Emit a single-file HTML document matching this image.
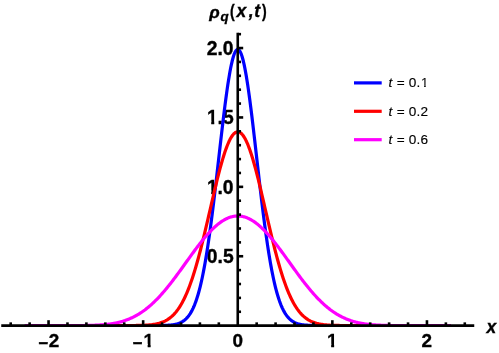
<!DOCTYPE html><html><head><meta charset="utf-8"><style>html,body{margin:0;padding:0;background:#fff}svg{display:block;will-change:transform}text{font-family:"Liberation Sans",sans-serif}</style></head><body>
<svg width="499" height="353" viewBox="0 0 499 353">
<rect width="499" height="353" fill="#fff"/>
<g font-weight="bold" fill="#000" stroke="#000" stroke-width="0.35">
<text font-size="18.90"><tspan x="38.39" y="348.70" font-size="17">−</tspan><tspan x="48.64" y="347.20">2</tspan></text>
<clipPath id="c1"><rect x="130" y="330" width="12.6" height="23"/><path d="M142.46,332.08 H150.62 V348.14 H147.68 V343.67 H142.46 Z"/></clipPath><text clip-path="url(#c1)" font-size="18.90"><tspan x="132.79" y="348.70" font-size="17">−</tspan><tspan x="143.47" y="347.20">1</tspan></text>
<text x="232.40" y="347.20" font-size="18.90">0</text>
<clipPath id="c2"><path d="M325.96,332.08 H334.12 V348.14 H331.18 V343.67 H325.96 Z"/></clipPath><text clip-path="url(#c2)" x="326.97" y="347.20" font-size="18.90">1</text>
<text x="421.49" y="347.20" font-size="18.90">2</text>
<text x="206.69 217.49 222.91" y="263.15" font-size="19.30">0.5</text>
<clipPath id="c3"><rect x="218.1" y="173.75" width="20" height="30"/><path d="M205.94,178.31 H214.24 V194.71 H211.24 V190.18 H205.94 Z"/></clipPath><text clip-path="url(#c3)" x="206.94 217.49 222.74" y="193.75" font-size="19.30">1.0</text>
<clipPath id="c4"><rect x="218.1" y="104.35" width="20" height="30"/><path d="M205.94,108.91 H214.24 V125.31 H211.24 V120.78 H205.94 Z"/></clipPath><text clip-path="url(#c4)" x="206.94 217.49 222.91" y="124.35" font-size="19.30">1.5</text>
<text x="206.78 217.49 222.74" y="54.95" font-size="19.30">2.0</text>
</g>
<clipPath id="cc"><rect x="0" y="0" width="499" height="326.65"/></clipPath><g clip-path="url(#cc)">
<path d="M24.90,325.55 L25.61,325.55 L26.32,325.55 L27.03,325.55 L27.74,325.55 L28.45,325.55 L29.16,325.55 L29.87,325.55 L30.58,325.55 L31.29,325.55 L32.00,325.55 L32.70,325.55 L33.41,325.55 L34.12,325.55 L34.83,325.55 L35.54,325.55 L36.25,325.55 L36.96,325.55 L37.67,325.55 L38.38,325.55 L39.09,325.55 L39.80,325.55 L40.51,325.55 L41.22,325.55 L41.93,325.55 L42.64,325.55 L43.35,325.55 L44.06,325.55 L44.77,325.55 L45.48,325.55 L46.19,325.55 L46.89,325.55 L47.60,325.55 L48.31,325.55 L49.02,325.55 L49.73,325.55 L50.44,325.55 L51.15,325.55 L51.86,325.55 L52.57,325.55 L53.28,325.55 L53.99,325.55 L54.70,325.55 L55.41,325.55 L56.12,325.55 L56.83,325.55 L57.54,325.55 L58.25,325.55 L58.96,325.55 L59.67,325.55 L60.38,325.55 L61.08,325.55 L61.79,325.55 L62.50,325.55 L63.21,325.55 L63.92,325.55 L64.63,325.55 L65.34,325.55 L66.05,325.55 L66.76,325.55 L67.47,325.55 L68.18,325.55 L68.89,325.55 L69.60,325.55 L70.31,325.55 L71.02,325.55 L71.73,325.55 L72.44,325.55 L73.15,325.55 L73.86,325.55 L74.56,325.55 L75.27,325.55 L75.98,325.55 L76.69,325.55 L77.40,325.55 L78.11,325.55 L78.82,325.55 L79.53,325.55 L80.24,325.55 L80.95,325.55 L81.66,325.55 L82.37,325.55 L83.08,325.55 L83.79,325.55 L84.50,325.55 L85.21,325.55 L85.92,325.55 L86.63,325.55 L87.34,325.55 L88.05,325.55 L88.76,325.55 L89.46,325.55 L90.17,325.55 L90.88,325.55 L91.59,325.55 L92.30,325.55 L93.01,325.55 L93.72,325.55 L94.43,325.55 L95.14,325.55 L95.85,325.55 L96.56,325.55 L97.27,325.55 L97.98,325.55 L98.69,325.55 L99.40,325.55 L100.11,325.55 L100.82,325.55 L101.53,325.55 L102.24,325.55 L102.94,325.55 L103.65,325.55 L104.36,325.55 L105.07,325.55 L105.78,325.55 L106.49,325.55 L107.20,325.55 L107.91,325.55 L108.62,325.55 L109.33,325.55 L110.04,325.55 L110.75,325.55 L111.46,325.55 L112.17,325.55 L112.88,325.55 L113.59,325.55 L114.30,325.55 L115.01,325.55 L115.72,325.55 L116.43,325.55 L117.14,325.55 L117.84,325.55 L118.55,325.55 L119.26,325.55 L119.97,325.55 L120.68,325.55 L121.39,325.55 L122.10,325.55 L122.81,325.55 L123.52,325.55 L124.23,325.55 L124.94,325.55 L125.65,325.55 L126.36,325.55 L127.07,325.55 L127.78,325.55 L128.49,325.55 L129.20,325.55 L129.91,325.55 L130.62,325.55 L131.32,325.55 L132.03,325.55 L132.74,325.55 L133.45,325.55 L134.16,325.55 L134.87,325.55 L135.58,325.55 L136.29,325.55 L137.00,325.55 L137.71,325.55 L138.42,325.55 L139.13,325.55 L139.84,325.55 L140.55,325.55 L141.26,325.55 L141.97,325.55 L142.68,325.55 L143.39,325.55 L144.10,325.55 L144.81,325.55 L145.51,325.55 L146.22,325.55 L146.93,325.55 L147.64,325.55 L148.35,325.55 L149.06,325.55 L149.77,325.54 L150.48,325.54 L151.19,325.54 L151.90,325.54 L152.61,325.54 L153.32,325.54 L154.03,325.53 L154.74,325.53 L155.45,325.53 L156.16,325.52 L156.87,325.52 L157.58,325.51 L158.29,325.51 L159.00,325.50 L159.71,325.49 L160.41,325.48 L161.12,325.47 L161.83,325.46 L162.54,325.44 L163.25,325.43 L163.96,325.41 L164.67,325.38 L165.38,325.36 L166.09,325.33 L166.80,325.30 L167.51,325.26 L168.22,325.22 L168.93,325.17 L169.64,325.11 L170.35,325.05 L171.06,324.98 L171.77,324.90 L172.48,324.81 L173.19,324.71 L173.90,324.59 L174.60,324.47 L175.31,324.32 L176.02,324.16 L176.73,323.98 L177.44,323.78 L178.15,323.56 L178.86,323.32 L179.57,323.04 L180.28,322.74 L180.99,322.41 L181.70,322.04 L182.41,321.63 L183.12,321.18 L183.83,320.69 L184.54,320.15 L185.25,319.55 L185.96,318.90 L186.67,318.19 L187.38,317.42 L188.09,316.58 L188.79,315.66 L189.50,314.67 L190.21,313.59 L190.92,312.42 L191.63,311.16 L192.34,309.81 L193.05,308.34 L193.76,306.77 L194.47,305.09 L195.18,303.28 L195.89,301.35 L196.60,299.28 L197.31,297.08 L198.02,294.74 L198.73,292.26 L199.44,289.62 L200.15,286.83 L200.86,283.88 L201.57,280.76 L202.28,277.49 L202.98,274.04 L203.69,270.43 L204.40,266.64 L205.11,262.68 L205.82,258.55 L206.53,254.25 L207.24,249.77 L207.95,245.13 L208.66,240.33 L209.37,235.36 L210.08,230.24 L210.79,224.96 L211.50,219.55 L212.21,214.00 L212.92,208.32 L213.63,202.52 L214.34,196.62 L215.05,190.63 L215.76,184.55 L216.47,178.40 L217.17,172.20 L217.88,165.97 L218.59,159.71 L219.30,153.45 L220.01,147.20 L220.72,140.98 L221.43,134.82 L222.14,128.72 L222.85,122.71 L223.56,116.81 L224.27,111.04 L224.98,105.42 L225.69,99.96 L226.40,94.69 L227.11,89.64 L227.82,84.80 L228.53,80.21 L229.24,75.89 L229.95,71.84 L230.65,68.08 L231.36,64.64 L232.07,61.52 L232.78,58.74 L233.49,56.30 L234.20,54.22 L234.91,52.51 L235.62,51.17 L236.33,50.21 L237.04,49.63 L237.75,49.44 L238.46,49.63 L239.17,50.21 L239.88,51.17 L240.59,52.51 L241.30,54.22 L242.01,56.30 L242.72,58.74 L243.43,61.52 L244.14,64.64 L244.85,68.08 L245.55,71.84 L246.26,75.89 L246.97,80.21 L247.68,84.80 L248.39,89.64 L249.10,94.69 L249.81,99.96 L250.52,105.42 L251.23,111.04 L251.94,116.81 L252.65,122.71 L253.36,128.72 L254.07,134.82 L254.78,140.98 L255.49,147.20 L256.20,153.45 L256.91,159.71 L257.62,165.97 L258.33,172.20 L259.04,178.40 L259.74,184.55 L260.45,190.63 L261.16,196.62 L261.87,202.52 L262.58,208.32 L263.29,214.00 L264.00,219.55 L264.71,224.96 L265.42,230.24 L266.13,235.36 L266.84,240.33 L267.55,245.13 L268.26,249.77 L268.97,254.25 L269.68,258.55 L270.39,262.68 L271.10,266.64 L271.81,270.43 L272.52,274.04 L273.23,277.49 L273.93,280.76 L274.64,283.88 L275.35,286.83 L276.06,289.62 L276.77,292.26 L277.48,294.74 L278.19,297.08 L278.90,299.28 L279.61,301.35 L280.32,303.28 L281.03,305.09 L281.74,306.77 L282.45,308.34 L283.16,309.81 L283.87,311.16 L284.58,312.42 L285.29,313.59 L286.00,314.67 L286.71,315.66 L287.41,316.58 L288.12,317.42 L288.83,318.19 L289.54,318.90 L290.25,319.55 L290.96,320.15 L291.67,320.69 L292.38,321.18 L293.09,321.63 L293.80,322.04 L294.51,322.41 L295.22,322.74 L295.93,323.04 L296.64,323.32 L297.35,323.56 L298.06,323.78 L298.77,323.98 L299.48,324.16 L300.19,324.32 L300.90,324.47 L301.60,324.59 L302.31,324.71 L303.02,324.81 L303.73,324.90 L304.44,324.98 L305.15,325.05 L305.86,325.11 L306.57,325.17 L307.28,325.22 L307.99,325.26 L308.70,325.30 L309.41,325.33 L310.12,325.36 L310.83,325.38 L311.54,325.41 L312.25,325.43 L312.96,325.44 L313.67,325.46 L314.38,325.47 L315.09,325.48 L315.80,325.49 L316.50,325.50 L317.21,325.51 L317.92,325.51 L318.63,325.52 L319.34,325.52 L320.05,325.53 L320.76,325.53 L321.47,325.53 L322.18,325.54 L322.89,325.54 L323.60,325.54 L324.31,325.54 L325.02,325.54 L325.73,325.54 L326.44,325.55 L327.15,325.55 L327.86,325.55 L328.57,325.55 L329.28,325.55 L329.99,325.55 L330.69,325.55 L331.40,325.55 L332.11,325.55 L332.82,325.55 L333.53,325.55 L334.24,325.55 L334.95,325.55 L335.66,325.55 L336.37,325.55 L337.08,325.55 L337.79,325.55 L338.50,325.55 L339.21,325.55 L339.92,325.55 L340.63,325.55 L341.34,325.55 L342.05,325.55 L342.76,325.55 L343.47,325.55 L344.18,325.55 L344.88,325.55 L345.59,325.55 L346.30,325.55 L347.01,325.55 L347.72,325.55 L348.43,325.55 L349.14,325.55 L349.85,325.55 L350.56,325.55 L351.27,325.55 L351.98,325.55 L352.69,325.55 L353.40,325.55 L354.11,325.55 L354.82,325.55 L355.53,325.55 L356.24,325.55 L356.95,325.55 L357.66,325.55 L358.37,325.55 L359.07,325.55 L359.78,325.55 L360.49,325.55 L361.20,325.55 L361.91,325.55 L362.62,325.55 L363.33,325.55 L364.04,325.55 L364.75,325.55 L365.46,325.55 L366.17,325.55 L366.88,325.55 L367.59,325.55 L368.30,325.55 L369.01,325.55 L369.72,325.55 L370.43,325.55 L371.14,325.55 L371.85,325.55 L372.55,325.55 L373.26,325.55 L373.97,325.55 L374.68,325.55 L375.39,325.55 L376.10,325.55 L376.81,325.55 L377.52,325.55 L378.23,325.55 L378.94,325.55 L379.65,325.55 L380.36,325.55 L381.07,325.55 L381.78,325.55 L382.49,325.55 L383.20,325.55 L383.91,325.55 L384.62,325.55 L385.33,325.55 L386.04,325.55 L386.75,325.55 L387.45,325.55 L388.16,325.55 L388.87,325.55 L389.58,325.55 L390.29,325.55 L391.00,325.55 L391.71,325.55 L392.42,325.55 L393.13,325.55 L393.84,325.55 L394.55,325.55 L395.26,325.55 L395.97,325.55 L396.68,325.55 L397.39,325.55 L398.10,325.55 L398.81,325.55 L399.52,325.55 L400.23,325.55 L400.94,325.55 L401.64,325.55 L402.35,325.55 L403.06,325.55 L403.77,325.55 L404.48,325.55 L405.19,325.55 L405.90,325.55 L406.61,325.55 L407.32,325.55 L408.03,325.55 L408.74,325.55 L409.45,325.55 L410.16,325.55 L410.87,325.55 L411.58,325.55 L412.29,325.55 L413.00,325.55 L413.71,325.55 L414.42,325.55 L415.12,325.55 L415.83,325.55 L416.54,325.55 L417.25,325.55 L417.96,325.55 L418.67,325.55 L419.38,325.55 L420.09,325.55 L420.80,325.55 L421.51,325.55 L422.22,325.55 L422.93,325.55 L423.64,325.55 L424.35,325.55 L425.06,325.55 L425.77,325.55 L426.48,325.55 L427.19,325.55 L427.90,325.55 L428.61,325.55 L429.32,325.55 L430.02,325.55 L430.73,325.55 L431.44,325.55 L432.15,325.55 L432.86,325.55 L433.57,325.55 L434.28,325.55 L434.99,325.55 L435.70,325.55 L436.41,325.55 L437.12,325.55 L437.83,325.55 L438.54,325.55 L439.25,325.55 L439.96,325.55 L440.67,325.55 L441.38,325.55 L442.09,325.55 L442.80,325.55 L443.50,325.55 L444.21,325.55 L444.92,325.55 L445.63,325.55 L446.34,325.55 L447.05,325.55 L447.76,325.55 L448.47,325.55 L449.18,325.55 L449.89,325.55 L450.60,325.55" fill="none" stroke="#0000ff" stroke-width="3.2" stroke-linejoin="round"/>
<path d="M24.90,325.55 L25.61,325.55 L26.32,325.55 L27.03,325.55 L27.74,325.55 L28.45,325.55 L29.16,325.55 L29.87,325.55 L30.58,325.55 L31.29,325.55 L32.00,325.55 L32.70,325.55 L33.41,325.55 L34.12,325.55 L34.83,325.55 L35.54,325.55 L36.25,325.55 L36.96,325.55 L37.67,325.55 L38.38,325.55 L39.09,325.55 L39.80,325.55 L40.51,325.55 L41.22,325.55 L41.93,325.55 L42.64,325.55 L43.35,325.55 L44.06,325.55 L44.77,325.55 L45.48,325.55 L46.19,325.55 L46.89,325.55 L47.60,325.55 L48.31,325.55 L49.02,325.55 L49.73,325.55 L50.44,325.55 L51.15,325.55 L51.86,325.55 L52.57,325.55 L53.28,325.55 L53.99,325.55 L54.70,325.55 L55.41,325.55 L56.12,325.55 L56.83,325.55 L57.54,325.55 L58.25,325.55 L58.96,325.55 L59.67,325.55 L60.38,325.55 L61.08,325.55 L61.79,325.55 L62.50,325.55 L63.21,325.55 L63.92,325.55 L64.63,325.55 L65.34,325.55 L66.05,325.55 L66.76,325.55 L67.47,325.55 L68.18,325.55 L68.89,325.55 L69.60,325.55 L70.31,325.55 L71.02,325.55 L71.73,325.55 L72.44,325.55 L73.15,325.55 L73.86,325.55 L74.56,325.55 L75.27,325.55 L75.98,325.55 L76.69,325.55 L77.40,325.55 L78.11,325.55 L78.82,325.55 L79.53,325.55 L80.24,325.55 L80.95,325.55 L81.66,325.55 L82.37,325.55 L83.08,325.55 L83.79,325.55 L84.50,325.55 L85.21,325.55 L85.92,325.55 L86.63,325.55 L87.34,325.55 L88.05,325.55 L88.76,325.55 L89.46,325.55 L90.17,325.55 L90.88,325.55 L91.59,325.55 L92.30,325.55 L93.01,325.55 L93.72,325.55 L94.43,325.55 L95.14,325.55 L95.85,325.55 L96.56,325.55 L97.27,325.55 L97.98,325.55 L98.69,325.55 L99.40,325.55 L100.11,325.55 L100.82,325.55 L101.53,325.55 L102.24,325.55 L102.94,325.55 L103.65,325.55 L104.36,325.55 L105.07,325.55 L105.78,325.55 L106.49,325.55 L107.20,325.55 L107.91,325.55 L108.62,325.55 L109.33,325.55 L110.04,325.55 L110.75,325.55 L111.46,325.55 L112.17,325.55 L112.88,325.55 L113.59,325.55 L114.30,325.55 L115.01,325.55 L115.72,325.55 L116.43,325.55 L117.14,325.55 L117.84,325.55 L118.55,325.55 L119.26,325.55 L119.97,325.55 L120.68,325.55 L121.39,325.55 L122.10,325.55 L122.81,325.54 L123.52,325.54 L124.23,325.54 L124.94,325.54 L125.65,325.54 L126.36,325.54 L127.07,325.54 L127.78,325.53 L128.49,325.53 L129.20,325.53 L129.91,325.53 L130.62,325.52 L131.32,325.52 L132.03,325.51 L132.74,325.51 L133.45,325.50 L134.16,325.50 L134.87,325.49 L135.58,325.48 L136.29,325.47 L137.00,325.46 L137.71,325.45 L138.42,325.43 L139.13,325.42 L139.84,325.40 L140.55,325.39 L141.26,325.37 L141.97,325.34 L142.68,325.32 L143.39,325.29 L144.10,325.26 L144.81,325.23 L145.51,325.19 L146.22,325.15 L146.93,325.10 L147.64,325.06 L148.35,325.00 L149.06,324.94 L149.77,324.88 L150.48,324.81 L151.19,324.73 L151.90,324.65 L152.61,324.55 L153.32,324.45 L154.03,324.35 L154.74,324.23 L155.45,324.10 L156.16,323.96 L156.87,323.81 L157.58,323.65 L158.29,323.48 L159.00,323.29 L159.71,323.08 L160.41,322.87 L161.12,322.63 L161.83,322.38 L162.54,322.11 L163.25,321.82 L163.96,321.51 L164.67,321.18 L165.38,320.82 L166.09,320.44 L166.80,320.04 L167.51,319.61 L168.22,319.15 L168.93,318.67 L169.64,318.15 L170.35,317.60 L171.06,317.02 L171.77,316.41 L172.48,315.76 L173.19,315.07 L173.90,314.35 L174.60,313.58 L175.31,312.78 L176.02,311.93 L176.73,311.04 L177.44,310.10 L178.15,309.12 L178.86,308.09 L179.57,307.01 L180.28,305.88 L180.99,304.70 L181.70,303.47 L182.41,302.18 L183.12,300.84 L183.83,299.45 L184.54,298.00 L185.25,296.49 L185.96,294.92 L186.67,293.29 L187.38,291.61 L188.09,289.87 L188.79,288.06 L189.50,286.20 L190.21,284.27 L190.92,282.29 L191.63,280.24 L192.34,278.14 L193.05,275.97 L193.76,273.75 L194.47,271.47 L195.18,269.13 L195.89,266.73 L196.60,264.28 L197.31,261.78 L198.02,259.22 L198.73,256.61 L199.44,253.95 L200.15,251.24 L200.86,248.49 L201.57,245.70 L202.28,242.86 L202.98,239.99 L203.69,237.08 L204.40,234.14 L205.11,231.16 L205.82,228.17 L206.53,225.15 L207.24,222.10 L207.95,219.05 L208.66,215.98 L209.37,212.90 L210.08,209.82 L210.79,206.74 L211.50,203.66 L212.21,200.59 L212.92,197.54 L213.63,194.50 L214.34,191.48 L215.05,188.48 L215.76,185.52 L216.47,182.59 L217.17,179.71 L217.88,176.86 L218.59,174.07 L219.30,171.33 L220.01,168.65 L220.72,166.03 L221.43,163.47 L222.14,160.99 L222.85,158.59 L223.56,156.26 L224.27,154.02 L224.98,151.87 L225.69,149.81 L226.40,147.85 L227.11,145.99 L227.82,144.23 L228.53,142.57 L229.24,141.03 L229.95,139.60 L230.65,138.28 L231.36,137.08 L232.07,136.00 L232.78,135.04 L233.49,134.21 L234.20,133.50 L234.91,132.92 L235.62,132.47 L236.33,132.14 L237.04,131.95 L237.75,131.88 L238.46,131.95 L239.17,132.14 L239.88,132.47 L240.59,132.92 L241.30,133.50 L242.01,134.21 L242.72,135.04 L243.43,136.00 L244.14,137.08 L244.85,138.28 L245.55,139.60 L246.26,141.03 L246.97,142.57 L247.68,144.23 L248.39,145.99 L249.10,147.85 L249.81,149.81 L250.52,151.87 L251.23,154.02 L251.94,156.26 L252.65,158.59 L253.36,160.99 L254.07,163.47 L254.78,166.03 L255.49,168.65 L256.20,171.33 L256.91,174.07 L257.62,176.86 L258.33,179.71 L259.04,182.59 L259.74,185.52 L260.45,188.48 L261.16,191.48 L261.87,194.50 L262.58,197.54 L263.29,200.59 L264.00,203.66 L264.71,206.74 L265.42,209.82 L266.13,212.90 L266.84,215.98 L267.55,219.05 L268.26,222.10 L268.97,225.15 L269.68,228.17 L270.39,231.16 L271.10,234.14 L271.81,237.08 L272.52,239.99 L273.23,242.86 L273.93,245.70 L274.64,248.49 L275.35,251.24 L276.06,253.95 L276.77,256.61 L277.48,259.22 L278.19,261.78 L278.90,264.28 L279.61,266.73 L280.32,269.13 L281.03,271.47 L281.74,273.75 L282.45,275.97 L283.16,278.14 L283.87,280.24 L284.58,282.29 L285.29,284.27 L286.00,286.20 L286.71,288.06 L287.41,289.87 L288.12,291.61 L288.83,293.29 L289.54,294.92 L290.25,296.49 L290.96,298.00 L291.67,299.45 L292.38,300.84 L293.09,302.18 L293.80,303.47 L294.51,304.70 L295.22,305.88 L295.93,307.01 L296.64,308.09 L297.35,309.12 L298.06,310.10 L298.77,311.04 L299.48,311.93 L300.19,312.78 L300.90,313.58 L301.60,314.35 L302.31,315.07 L303.02,315.76 L303.73,316.41 L304.44,317.02 L305.15,317.60 L305.86,318.15 L306.57,318.67 L307.28,319.15 L307.99,319.61 L308.70,320.04 L309.41,320.44 L310.12,320.82 L310.83,321.18 L311.54,321.51 L312.25,321.82 L312.96,322.11 L313.67,322.38 L314.38,322.63 L315.09,322.87 L315.80,323.08 L316.50,323.29 L317.21,323.48 L317.92,323.65 L318.63,323.81 L319.34,323.96 L320.05,324.10 L320.76,324.23 L321.47,324.35 L322.18,324.45 L322.89,324.55 L323.60,324.65 L324.31,324.73 L325.02,324.81 L325.73,324.88 L326.44,324.94 L327.15,325.00 L327.86,325.06 L328.57,325.10 L329.28,325.15 L329.99,325.19 L330.69,325.23 L331.40,325.26 L332.11,325.29 L332.82,325.32 L333.53,325.34 L334.24,325.37 L334.95,325.39 L335.66,325.40 L336.37,325.42 L337.08,325.43 L337.79,325.45 L338.50,325.46 L339.21,325.47 L339.92,325.48 L340.63,325.49 L341.34,325.50 L342.05,325.50 L342.76,325.51 L343.47,325.51 L344.18,325.52 L344.88,325.52 L345.59,325.53 L346.30,325.53 L347.01,325.53 L347.72,325.53 L348.43,325.54 L349.14,325.54 L349.85,325.54 L350.56,325.54 L351.27,325.54 L351.98,325.54 L352.69,325.54 L353.40,325.55 L354.11,325.55 L354.82,325.55 L355.53,325.55 L356.24,325.55 L356.95,325.55 L357.66,325.55 L358.37,325.55 L359.07,325.55 L359.78,325.55 L360.49,325.55 L361.20,325.55 L361.91,325.55 L362.62,325.55 L363.33,325.55 L364.04,325.55 L364.75,325.55 L365.46,325.55 L366.17,325.55 L366.88,325.55 L367.59,325.55 L368.30,325.55 L369.01,325.55 L369.72,325.55 L370.43,325.55 L371.14,325.55 L371.85,325.55 L372.55,325.55 L373.26,325.55 L373.97,325.55 L374.68,325.55 L375.39,325.55 L376.10,325.55 L376.81,325.55 L377.52,325.55 L378.23,325.55 L378.94,325.55 L379.65,325.55 L380.36,325.55 L381.07,325.55 L381.78,325.55 L382.49,325.55 L383.20,325.55 L383.91,325.55 L384.62,325.55 L385.33,325.55 L386.04,325.55 L386.75,325.55 L387.45,325.55 L388.16,325.55 L388.87,325.55 L389.58,325.55 L390.29,325.55 L391.00,325.55 L391.71,325.55 L392.42,325.55 L393.13,325.55 L393.84,325.55 L394.55,325.55 L395.26,325.55 L395.97,325.55 L396.68,325.55 L397.39,325.55 L398.10,325.55 L398.81,325.55 L399.52,325.55 L400.23,325.55 L400.94,325.55 L401.64,325.55 L402.35,325.55 L403.06,325.55 L403.77,325.55 L404.48,325.55 L405.19,325.55 L405.90,325.55 L406.61,325.55 L407.32,325.55 L408.03,325.55 L408.74,325.55 L409.45,325.55 L410.16,325.55 L410.87,325.55 L411.58,325.55 L412.29,325.55 L413.00,325.55 L413.71,325.55 L414.42,325.55 L415.12,325.55 L415.83,325.55 L416.54,325.55 L417.25,325.55 L417.96,325.55 L418.67,325.55 L419.38,325.55 L420.09,325.55 L420.80,325.55 L421.51,325.55 L422.22,325.55 L422.93,325.55 L423.64,325.55 L424.35,325.55 L425.06,325.55 L425.77,325.55 L426.48,325.55 L427.19,325.55 L427.90,325.55 L428.61,325.55 L429.32,325.55 L430.02,325.55 L430.73,325.55 L431.44,325.55 L432.15,325.55 L432.86,325.55 L433.57,325.55 L434.28,325.55 L434.99,325.55 L435.70,325.55 L436.41,325.55 L437.12,325.55 L437.83,325.55 L438.54,325.55 L439.25,325.55 L439.96,325.55 L440.67,325.55 L441.38,325.55 L442.09,325.55 L442.80,325.55 L443.50,325.55 L444.21,325.55 L444.92,325.55 L445.63,325.55 L446.34,325.55 L447.05,325.55 L447.76,325.55 L448.47,325.55 L449.18,325.55 L449.89,325.55 L450.60,325.55" fill="none" stroke="#ff0000" stroke-width="3.2" stroke-linejoin="round"/>
<path d="M24.90,325.55 L25.61,325.55 L26.32,325.55 L27.03,325.55 L27.74,325.55 L28.45,325.55 L29.16,325.55 L29.87,325.55 L30.58,325.55 L31.29,325.55 L32.00,325.55 L32.70,325.55 L33.41,325.55 L34.12,325.55 L34.83,325.55 L35.54,325.55 L36.25,325.55 L36.96,325.55 L37.67,325.55 L38.38,325.55 L39.09,325.55 L39.80,325.55 L40.51,325.55 L41.22,325.55 L41.93,325.55 L42.64,325.55 L43.35,325.55 L44.06,325.55 L44.77,325.55 L45.48,325.55 L46.19,325.55 L46.89,325.55 L47.60,325.55 L48.31,325.55 L49.02,325.55 L49.73,325.55 L50.44,325.55 L51.15,325.55 L51.86,325.55 L52.57,325.55 L53.28,325.55 L53.99,325.55 L54.70,325.55 L55.41,325.55 L56.12,325.55 L56.83,325.55 L57.54,325.55 L58.25,325.55 L58.96,325.55 L59.67,325.55 L60.38,325.55 L61.08,325.55 L61.79,325.55 L62.50,325.55 L63.21,325.55 L63.92,325.55 L64.63,325.55 L65.34,325.55 L66.05,325.55 L66.76,325.55 L67.47,325.55 L68.18,325.55 L68.89,325.55 L69.60,325.55 L70.31,325.55 L71.02,325.55 L71.73,325.54 L72.44,325.54 L73.15,325.54 L73.86,325.54 L74.56,325.54 L75.27,325.54 L75.98,325.53 L76.69,325.53 L77.40,325.53 L78.11,325.53 L78.82,325.52 L79.53,325.52 L80.24,325.51 L80.95,325.51 L81.66,325.50 L82.37,325.50 L83.08,325.49 L83.79,325.48 L84.50,325.48 L85.21,325.47 L85.92,325.46 L86.63,325.45 L87.34,325.44 L88.05,325.42 L88.76,325.41 L89.46,325.39 L90.17,325.38 L90.88,325.36 L91.59,325.34 L92.30,325.32 L93.01,325.30 L93.72,325.27 L94.43,325.25 L95.14,325.22 L95.85,325.19 L96.56,325.16 L97.27,325.12 L97.98,325.09 L98.69,325.05 L99.40,325.01 L100.11,324.96 L100.82,324.92 L101.53,324.87 L102.24,324.81 L102.94,324.76 L103.65,324.70 L104.36,324.63 L105.07,324.56 L105.78,324.49 L106.49,324.42 L107.20,324.34 L107.91,324.26 L108.62,324.17 L109.33,324.08 L110.04,323.98 L110.75,323.88 L111.46,323.77 L112.17,323.66 L112.88,323.54 L113.59,323.42 L114.30,323.29 L115.01,323.15 L115.72,323.01 L116.43,322.86 L117.14,322.71 L117.84,322.55 L118.55,322.38 L119.26,322.21 L119.97,322.02 L120.68,321.83 L121.39,321.64 L122.10,321.43 L122.81,321.22 L123.52,321.00 L124.23,320.77 L124.94,320.54 L125.65,320.29 L126.36,320.04 L127.07,319.78 L127.78,319.51 L128.49,319.23 L129.20,318.94 L129.91,318.64 L130.62,318.33 L131.32,318.01 L132.03,317.68 L132.74,317.34 L133.45,317.00 L134.16,316.64 L134.87,316.27 L135.58,315.89 L136.29,315.50 L137.00,315.10 L137.71,314.69 L138.42,314.26 L139.13,313.83 L139.84,313.39 L140.55,312.93 L141.26,312.46 L141.97,311.98 L142.68,311.49 L143.39,310.99 L144.10,310.48 L144.81,309.96 L145.51,309.42 L146.22,308.87 L146.93,308.31 L147.64,307.74 L148.35,307.16 L149.06,306.57 L149.77,305.96 L150.48,305.34 L151.19,304.72 L151.90,304.07 L152.61,303.42 L153.32,302.76 L154.03,302.09 L154.74,301.40 L155.45,300.70 L156.16,299.99 L156.87,299.27 L157.58,298.54 L158.29,297.80 L159.00,297.05 L159.71,296.29 L160.41,295.51 L161.12,294.73 L161.83,293.94 L162.54,293.13 L163.25,292.32 L163.96,291.50 L164.67,290.66 L165.38,289.82 L166.09,288.97 L166.80,288.11 L167.51,287.24 L168.22,286.36 L168.93,285.48 L169.64,284.59 L170.35,283.69 L171.06,282.78 L171.77,281.86 L172.48,280.94 L173.19,280.01 L173.90,279.08 L174.60,278.13 L175.31,277.19 L176.02,276.23 L176.73,275.28 L177.44,274.32 L178.15,273.35 L178.86,272.38 L179.57,271.40 L180.28,270.43 L180.99,269.45 L181.70,268.46 L182.41,267.48 L183.12,266.49 L183.83,265.50 L184.54,264.51 L185.25,263.52 L185.96,262.53 L186.67,261.54 L187.38,260.55 L188.09,259.56 L188.79,258.57 L189.50,257.59 L190.21,256.60 L190.92,255.62 L191.63,254.64 L192.34,253.67 L193.05,252.69 L193.76,251.73 L194.47,250.76 L195.18,249.81 L195.89,248.85 L196.60,247.91 L197.31,246.97 L198.02,246.03 L198.73,245.11 L199.44,244.19 L200.15,243.28 L200.86,242.38 L201.57,241.48 L202.28,240.60 L202.98,239.73 L203.69,238.86 L204.40,238.01 L205.11,237.17 L205.82,236.33 L206.53,235.51 L207.24,234.71 L207.95,233.91 L208.66,233.13 L209.37,232.36 L210.08,231.61 L210.79,230.86 L211.50,230.14 L212.21,229.43 L212.92,228.73 L213.63,228.05 L214.34,227.38 L215.05,226.73 L215.76,226.10 L216.47,225.48 L217.17,224.88 L217.88,224.30 L218.59,223.74 L219.30,223.19 L220.01,222.66 L220.72,222.15 L221.43,221.66 L222.14,221.19 L222.85,220.74 L223.56,220.30 L224.27,219.89 L224.98,219.50 L225.69,219.12 L226.40,218.77 L227.11,218.44 L227.82,218.13 L228.53,217.83 L229.24,217.56 L229.95,217.31 L230.65,217.09 L231.36,216.88 L232.07,216.69 L232.78,216.53 L233.49,216.39 L234.20,216.27 L234.91,216.17 L235.62,216.09 L236.33,216.04 L237.04,216.01 L237.75,216.00 L238.46,216.01 L239.17,216.04 L239.88,216.09 L240.59,216.17 L241.30,216.27 L242.01,216.39 L242.72,216.53 L243.43,216.69 L244.14,216.88 L244.85,217.09 L245.55,217.31 L246.26,217.56 L246.97,217.83 L247.68,218.13 L248.39,218.44 L249.10,218.77 L249.81,219.12 L250.52,219.50 L251.23,219.89 L251.94,220.30 L252.65,220.74 L253.36,221.19 L254.07,221.66 L254.78,222.15 L255.49,222.66 L256.20,223.19 L256.91,223.74 L257.62,224.30 L258.33,224.88 L259.04,225.48 L259.74,226.10 L260.45,226.73 L261.16,227.38 L261.87,228.05 L262.58,228.73 L263.29,229.43 L264.00,230.14 L264.71,230.86 L265.42,231.61 L266.13,232.36 L266.84,233.13 L267.55,233.91 L268.26,234.71 L268.97,235.51 L269.68,236.33 L270.39,237.17 L271.10,238.01 L271.81,238.86 L272.52,239.73 L273.23,240.60 L273.93,241.48 L274.64,242.38 L275.35,243.28 L276.06,244.19 L276.77,245.11 L277.48,246.03 L278.19,246.97 L278.90,247.91 L279.61,248.85 L280.32,249.81 L281.03,250.76 L281.74,251.73 L282.45,252.69 L283.16,253.67 L283.87,254.64 L284.58,255.62 L285.29,256.60 L286.00,257.59 L286.71,258.57 L287.41,259.56 L288.12,260.55 L288.83,261.54 L289.54,262.53 L290.25,263.52 L290.96,264.51 L291.67,265.50 L292.38,266.49 L293.09,267.48 L293.80,268.46 L294.51,269.45 L295.22,270.43 L295.93,271.40 L296.64,272.38 L297.35,273.35 L298.06,274.32 L298.77,275.28 L299.48,276.23 L300.19,277.19 L300.90,278.13 L301.60,279.08 L302.31,280.01 L303.02,280.94 L303.73,281.86 L304.44,282.78 L305.15,283.69 L305.86,284.59 L306.57,285.48 L307.28,286.36 L307.99,287.24 L308.70,288.11 L309.41,288.97 L310.12,289.82 L310.83,290.66 L311.54,291.50 L312.25,292.32 L312.96,293.13 L313.67,293.94 L314.38,294.73 L315.09,295.51 L315.80,296.29 L316.50,297.05 L317.21,297.80 L317.92,298.54 L318.63,299.27 L319.34,299.99 L320.05,300.70 L320.76,301.40 L321.47,302.09 L322.18,302.76 L322.89,303.42 L323.60,304.07 L324.31,304.72 L325.02,305.34 L325.73,305.96 L326.44,306.57 L327.15,307.16 L327.86,307.74 L328.57,308.31 L329.28,308.87 L329.99,309.42 L330.69,309.96 L331.40,310.48 L332.11,310.99 L332.82,311.49 L333.53,311.98 L334.24,312.46 L334.95,312.93 L335.66,313.39 L336.37,313.83 L337.08,314.26 L337.79,314.69 L338.50,315.10 L339.21,315.50 L339.92,315.89 L340.63,316.27 L341.34,316.64 L342.05,317.00 L342.76,317.34 L343.47,317.68 L344.18,318.01 L344.88,318.33 L345.59,318.64 L346.30,318.94 L347.01,319.23 L347.72,319.51 L348.43,319.78 L349.14,320.04 L349.85,320.29 L350.56,320.54 L351.27,320.77 L351.98,321.00 L352.69,321.22 L353.40,321.43 L354.11,321.64 L354.82,321.83 L355.53,322.02 L356.24,322.21 L356.95,322.38 L357.66,322.55 L358.37,322.71 L359.07,322.86 L359.78,323.01 L360.49,323.15 L361.20,323.29 L361.91,323.42 L362.62,323.54 L363.33,323.66 L364.04,323.77 L364.75,323.88 L365.46,323.98 L366.17,324.08 L366.88,324.17 L367.59,324.26 L368.30,324.34 L369.01,324.42 L369.72,324.49 L370.43,324.56 L371.14,324.63 L371.85,324.70 L372.55,324.76 L373.26,324.81 L373.97,324.87 L374.68,324.92 L375.39,324.96 L376.10,325.01 L376.81,325.05 L377.52,325.09 L378.23,325.12 L378.94,325.16 L379.65,325.19 L380.36,325.22 L381.07,325.25 L381.78,325.27 L382.49,325.30 L383.20,325.32 L383.91,325.34 L384.62,325.36 L385.33,325.38 L386.04,325.39 L386.75,325.41 L387.45,325.42 L388.16,325.44 L388.87,325.45 L389.58,325.46 L390.29,325.47 L391.00,325.48 L391.71,325.48 L392.42,325.49 L393.13,325.50 L393.84,325.50 L394.55,325.51 L395.26,325.51 L395.97,325.52 L396.68,325.52 L397.39,325.53 L398.10,325.53 L398.81,325.53 L399.52,325.53 L400.23,325.54 L400.94,325.54 L401.64,325.54 L402.35,325.54 L403.06,325.54 L403.77,325.54 L404.48,325.55 L405.19,325.55 L405.90,325.55 L406.61,325.55 L407.32,325.55 L408.03,325.55 L408.74,325.55 L409.45,325.55 L410.16,325.55 L410.87,325.55 L411.58,325.55 L412.29,325.55 L413.00,325.55 L413.71,325.55 L414.42,325.55 L415.12,325.55 L415.83,325.55 L416.54,325.55 L417.25,325.55 L417.96,325.55 L418.67,325.55 L419.38,325.55 L420.09,325.55 L420.80,325.55 L421.51,325.55 L422.22,325.55 L422.93,325.55 L423.64,325.55 L424.35,325.55 L425.06,325.55 L425.77,325.55 L426.48,325.55 L427.19,325.55 L427.90,325.55 L428.61,325.55 L429.32,325.55 L430.02,325.55 L430.73,325.55 L431.44,325.55 L432.15,325.55 L432.86,325.55 L433.57,325.55 L434.28,325.55 L434.99,325.55 L435.70,325.55 L436.41,325.55 L437.12,325.55 L437.83,325.55 L438.54,325.55 L439.25,325.55 L439.96,325.55 L440.67,325.55 L441.38,325.55 L442.09,325.55 L442.80,325.55 L443.50,325.55 L444.21,325.55 L444.92,325.55 L445.63,325.55 L446.34,325.55 L447.05,325.55 L447.76,325.55 L448.47,325.55 L449.18,325.55 L449.89,325.55 L450.60,325.55" fill="none" stroke="#ff00ff" stroke-width="3.2" stroke-linejoin="round"/>
</g>
<g stroke="#000" stroke-width="2.6" fill="none">
<line x1="1.25" y1="325.65" x2="474.25" y2="325.65"/>
<line x1="237.75" y1="325.65" x2="237.75" y2="32.87"/>
<line x1="10.71" y1="325.65" x2="10.71" y2="322.35"/>
<line x1="29.63" y1="325.65" x2="29.63" y2="322.35"/>
<line x1="48.55" y1="325.65" x2="48.55" y2="320.20"/>
<line x1="67.47" y1="325.65" x2="67.47" y2="322.35"/>
<line x1="86.39" y1="325.65" x2="86.39" y2="322.35"/>
<line x1="105.31" y1="325.65" x2="105.31" y2="322.35"/>
<line x1="124.23" y1="325.65" x2="124.23" y2="322.35"/>
<line x1="143.15" y1="325.65" x2="143.15" y2="320.20"/>
<line x1="162.07" y1="325.65" x2="162.07" y2="322.35"/>
<line x1="180.99" y1="325.65" x2="180.99" y2="322.35"/>
<line x1="199.91" y1="325.65" x2="199.91" y2="322.35"/>
<line x1="218.83" y1="325.65" x2="218.83" y2="322.35"/>
<line x1="256.67" y1="325.65" x2="256.67" y2="322.35"/>
<line x1="275.59" y1="325.65" x2="275.59" y2="322.35"/>
<line x1="294.51" y1="325.65" x2="294.51" y2="322.35"/>
<line x1="313.43" y1="325.65" x2="313.43" y2="322.35"/>
<line x1="332.35" y1="325.65" x2="332.35" y2="320.20"/>
<line x1="351.27" y1="325.65" x2="351.27" y2="322.35"/>
<line x1="370.19" y1="325.65" x2="370.19" y2="322.35"/>
<line x1="389.11" y1="325.65" x2="389.11" y2="322.35"/>
<line x1="408.03" y1="325.65" x2="408.03" y2="322.35"/>
<line x1="426.95" y1="325.65" x2="426.95" y2="320.20"/>
<line x1="445.87" y1="325.65" x2="445.87" y2="322.35"/>
<line x1="464.79" y1="325.65" x2="464.79" y2="322.35"/>
<line x1="237.75" y1="311.77" x2="241.05" y2="311.77"/>
<line x1="237.75" y1="297.89" x2="241.05" y2="297.89"/>
<line x1="237.75" y1="284.01" x2="241.05" y2="284.01"/>
<line x1="237.75" y1="270.13" x2="241.05" y2="270.13"/>
<line x1="237.75" y1="256.25" x2="243.20" y2="256.25"/>
<line x1="237.75" y1="242.37" x2="241.05" y2="242.37"/>
<line x1="237.75" y1="228.49" x2="241.05" y2="228.49"/>
<line x1="237.75" y1="214.61" x2="241.05" y2="214.61"/>
<line x1="237.75" y1="200.73" x2="241.05" y2="200.73"/>
<line x1="237.75" y1="186.85" x2="243.20" y2="186.85"/>
<line x1="237.75" y1="172.97" x2="241.05" y2="172.97"/>
<line x1="237.75" y1="159.09" x2="241.05" y2="159.09"/>
<line x1="237.75" y1="145.21" x2="241.05" y2="145.21"/>
<line x1="237.75" y1="131.33" x2="241.05" y2="131.33"/>
<line x1="237.75" y1="117.45" x2="243.20" y2="117.45"/>
<line x1="237.75" y1="103.57" x2="241.05" y2="103.57"/>
<line x1="237.75" y1="89.69" x2="241.05" y2="89.69"/>
<line x1="237.75" y1="75.81" x2="241.05" y2="75.81"/>
<line x1="237.75" y1="61.93" x2="241.05" y2="61.93"/>
<line x1="237.75" y1="48.05" x2="243.20" y2="48.05"/>
<line x1="237.75" y1="34.17" x2="241.05" y2="34.17"/>
</g>
<g font-weight="bold" fill="#000" stroke="#000" stroke-width="0.35">
<text transform="translate(486.47,333.00) scale(1.000,1)" font-size="17.50" font-style="italic">x</text>
<text transform="translate(209.19,17.70) scale(1.000,1)" font-size="17.20" font-style="italic">ρ</text>
<text transform="translate(220.62,20.50) scale(1.000,1)" font-size="13.30" font-style="italic">q</text>
<text transform="translate(229.90,17.40) scale(0.800,1)" font-size="17.60">(</text>
<text transform="translate(236.57,17.30) scale(1.000,1)" font-size="17.50" font-style="italic">x</text>
<text transform="translate(248.87,17.30) scale(1.000,1)" font-size="17.50" font-style="italic">,</text>
<text transform="translate(254.17,17.30) scale(1.000,1)" font-size="17.50" font-style="italic">t</text>
<text transform="translate(261.99,17.40) scale(0.800,1)" font-size="17.60">)</text>
</g>
<line x1="354" y1="82.9" x2="381.7" y2="82.9" stroke="#0000ff" stroke-width="3.2"/>
<clipPath id="c5"><rect x="385" y="71.30" width="35.71" height="24"/><path d="M420.71,76.42 H425.73 V87.98 H424.13 V85.38 H420.71 Z"/></clipPath><text clip-path="url(#c5)" font-size="13.6" stroke="#000" stroke-width="0.15"><tspan x="388.38" y="87.30" font-style="italic">t</tspan><tspan x="392.96"> = </tspan><tspan x="408.87">0.</tspan><tspan x="420.91">1</tspan></text>
<line x1="354" y1="111.3" x2="381.7" y2="111.3" stroke="#ff0000" stroke-width="3.2"/>
<text font-size="13.6" stroke="#000" stroke-width="0.15"><tspan x="388.38" y="115.70" font-style="italic">t</tspan><tspan x="392.96"> = </tspan><tspan x="408.87">0.</tspan><tspan x="420.41">2</tspan></text>
<line x1="354" y1="139.7" x2="381.7" y2="139.7" stroke="#ff00ff" stroke-width="3.2"/>
<text font-size="13.6" stroke="#000" stroke-width="0.15"><tspan x="388.38" y="144.10" font-style="italic">t</tspan><tspan x="392.96"> = </tspan><tspan x="408.87">0.</tspan><tspan x="420.41">6</tspan></text>
</svg></body></html>
